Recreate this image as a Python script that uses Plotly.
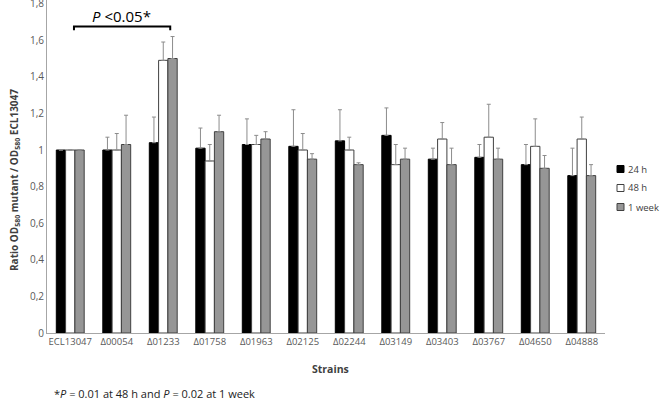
import plotly.graph_objects as go

strains = ["ECL13047", "Δ00054", "Δ01233", "Δ01758", "Δ01963", "Δ02125",
           "Δ02244", "Δ03149", "Δ03403", "Δ03767", "Δ04650", "Δ04888"]

# mean ratios
h24 = [1.00, 1.00, 1.04, 1.01, 1.03, 1.02, 1.05, 1.08, 0.95, 0.96, 0.92, 0.86]
h48 = [1.00, 1.00, 1.49, 0.94, 1.03, 1.00, 1.00, 0.92, 1.06, 1.07, 1.02, 1.06]
wk1 = [1.00, 1.03, 1.50, 1.10, 1.06, 0.95, 0.92, 0.95, 0.92, 0.95, 0.90, 0.86]

# upper error (SD)
h24_err = [0.00, 0.07, 0.14, 0.11, 0.14, 0.20, 0.17, 0.15, 0.06, 0.07, 0.11, 0.15]
h48_err = [0.00, 0.09, 0.10, 0.09, 0.05, 0.09, 0.07, 0.11, 0.09, 0.18, 0.15, 0.12]
wk1_err = [0.00, 0.16, 0.12, 0.09, 0.04, 0.03, 0.01, 0.06, 0.09, 0.06, 0.07, 0.06]

y_ticks = [0, 0.2, 0.4, 0.6, 0.8, 1.0, 1.2, 1.4, 1.6, 1.8]
y_ticktext = ["0", "0,2", "0,4", "0,6", "0,8", "1", "1,2", "1,4", "1,6", "1,8"]

FONT = "Open Sans"
W, H = 660, 401
L, T, B = 47, 0, 68
PW = W - L          # paper width (no right margin)
PH = H - T - B      # 333 px -> y = 0 sits at pixel 333
PLOT_W = 558        # width of the bar area
Y_TOP = 333 / 183   # keeps 1.8 at pixel 4

def px(xp):
    return (xp - L) / PW

def py(yp):
    return (T + PH - yp) / PH

series = [
    ("24 h", h24, h24_err, "#000000", "#000000"),
    ("48 h", h48, h48_err, "#ffffff", "#404040"),
    ("1 week", wk1, wk1_err, "#969696", "#404040"),
]

fig = go.Figure()
for i, (name, vals, err, fill, edge) in enumerate(series):
    fig.add_trace(go.Bar(
        x=strains, y=vals, name=name, showlegend=False,
        marker=dict(color=fill, line=dict(color=edge, width=1)),
        error_y=dict(type="data", array=err, arrayminus=[0] * len(err),
                     symmetric=False, color="#8c8c8c", thickness=1, width=2),
    ))
    # hand-made compact legend on the right
    yc = 169 + 19 * i
    fig.add_shape(type="rect", xref="paper", yref="paper",
                  x0=px(617), x1=px(624), y0=py(yc + 3.5), y1=py(yc - 3.5),
                  fillcolor=fill, line=dict(color=edge, width=1))
    fig.add_annotation(x=px(626), y=py(yc), xref="paper", yref="paper",
                       xanchor="left", yanchor="middle", showarrow=False, text=name,
                       font=dict(size=9.5, color="#404040", family=FONT))

# significance bracket
fig.add_shape(type="path", xref="x", yref="y",
              path="M 0.08 1.655 L 0.08 1.675 L 2.15 1.675 L 2.15 1.655",
              line=dict(color="black", width=2))
fig.add_annotation(x=1.1, y=1.73, xref="x", yref="y", showarrow=False,
                   text="<i>P</i> <0.05*", font=dict(size=15, color="black", family=FONT))

fig.add_annotation(x=px(14), y=py(180), xref="paper", yref="paper", xanchor="center",
                   text="<b>Ratio OD<sub>580</sub> mutant / OD<sub>580</sub> ECL13047</b>",
                   textangle=-90, showarrow=False,
                   font=dict(size=10, color="#404040", family=FONT))
fig.add_annotation(x=px(330), y=py(369), xref="paper", yref="paper", yanchor="middle",
                   text="<b>Strains</b>", showarrow=False,
                   font=dict(size=10.5, color="#404040", family=FONT))
fig.add_annotation(x=px(52), y=py(393), xref="paper", yref="paper", xanchor="left", yanchor="middle",
                   text="*<i>P</i> = 0.01 at 48 h and <i>P</i> = 0.02 at 1 week", showarrow=False,
                   font=dict(size=11, color="#222222", family=FONT))

fig.update_layout(
    width=W, height=H,
    margin=dict(l=L, r=0, t=T, b=B, autoexpand=False),
    paper_bgcolor="white", plot_bgcolor="white",
    barmode="group", bargap=0.4, bargroupgap=0,
    font=dict(family=FONT, size=10, color="#595959"),
    showlegend=False,
    xaxis=dict(domain=[0, PLOT_W / PW], showline=True, linecolor="#a6a6a6",
               linewidth=1, ticks="", tickfont=dict(size=9.5)),
    yaxis=dict(range=[0, Y_TOP], tickvals=y_ticks, ticktext=y_ticktext,
               showgrid=False, zeroline=False, showline=True, linecolor="#a6a6a6",
               linewidth=1, ticks="", tickfont=dict(size=10), ticklabeloverflow="allow"),
)

fig.write_html("out.html", config={"displayModeBar": False},
               post_script="document.body.style.margin='0';")
